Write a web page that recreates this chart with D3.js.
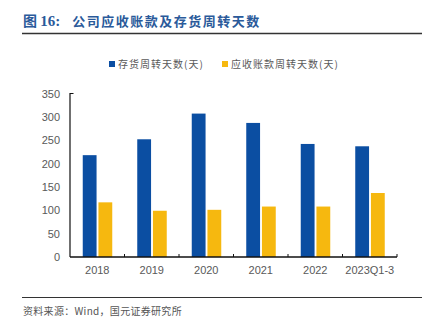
<!DOCTYPE html>
<html><head><meta charset="utf-8">
<script src="https://cdn.jsdelivr.net/npm/d3@7/dist/d3.min.js"></script>
<style>html,body{margin:0;padding:0;background:#fff;}svg{display:block;}</style>
</head><body>
<svg id="c" width="431" height="324"></svg>
<script>
const categories = ["2018","2019","2020","2021","2022","2023Q1-3"];
const inventoryDays = [218, 252, 307, 287, 242, 237];
const receivableDays = [117, 99, 101, 108, 108, 137];
const seriesNames = ["存货周转天数(天)", "应收账款周转天数(天)"];
const yTicks = [0,50,100,150,200,250,300,350];

(function(){
const svg = d3.select("#c");
const colors = ["#0b4ea2", "#f6b80f"];
const pL = 70, pR = 397, pT = 93.5, pB = 257;

// Title
const title = svg.append("text").attr("x", 23).attr("y", 26).attr("fill", "#2a5a9a");
title.append("tspan").attr("font-family","'Noto Sans CJK SC',sans-serif").attr("font-weight","bold").attr("font-size",14).text("图 ");
title.append("tspan").attr("font-family","'Liberation Serif','DejaVu Serif',serif").attr("font-weight","bold").attr("font-size",15).text("16:");
title.append("tspan").attr("dx", 12).attr("font-family","'Noto Sans CJK SC',sans-serif").attr("font-weight",600).attr("font-size",13).attr("letter-spacing",1.5).text("公司应收账款及存货周转天数");
svg.append("line").attr("x1", 22).attr("x2", 422).attr("y1", 33.5).attr("y2", 33.5)
  .attr("stroke", "#333").attr("stroke-width", 1.3);

const x = d3.scaleBand().domain(categories).range([pL, pR]).paddingInner(0).paddingOuter(0);
const y = d3.scaleLinear().domain([0, 350]).range([pB, pT]);
const sub = d3.scaleBand().domain([0,1]).range([0, 29.5]).paddingInner(0.12);

// Bars
const g = svg.append("g");
categories.forEach((c, i) => {
  const x0 = x(c) + x.bandwidth()/2 - 14.5;
  [inventoryDays[i], receivableDays[i]].forEach((v, j) => {
    g.append("rect").attr("x", x0 + sub(j)).attr("width", sub.bandwidth())
      .attr("y", y(v)).attr("height", y(0) - y(v)).attr("fill", colors[j]);
  });
});

// Y axis
const yAxis = d3.axisLeft(y).tickValues(yTicks).tickSize(0).tickPadding(10);
const ya = svg.append("g").attr("transform", `translate(${pL},0)`).call(yAxis);
ya.select(".domain").remove();
ya.selectAll("text").attr("font-family", "'Liberation Sans',Arial,sans-serif").attr("font-size", 11).attr("fill", "#595959");
svg.append("path").attr("d", `M${pL+3.5},${pT}H${pL}V${pB}`).attr("fill","none").attr("stroke","#111").attr("stroke-width",1.2);

// X axis
const xAxis = d3.axisBottom(x).tickSize(0).tickPadding(9);
const xa = svg.append("g").attr("transform", `translate(0,${pB})`).call(xAxis);
xa.select(".domain").remove();
xa.selectAll("text").attr("font-family", "'Liberation Sans',Arial,sans-serif").attr("font-size", 11).attr("fill", "#595959");
svg.append("line").attr("x1", pL).attr("x2", pR).attr("y1", pB).attr("y2", pB).attr("stroke","#111").attr("stroke-width",1.5);
categories.forEach(c => {
  const xb = x(c) + x.bandwidth();
  svg.append("line").attr("x1", xb).attr("x2", xb).attr("y1", pB).attr("y2", pB-3).attr("stroke","#111").attr("stroke-width",1);
});

// Legend
const leg = [{x:109, tx:118}, {x:222, tx:231}];
seriesNames.forEach((n, i) => {
  svg.append("rect").attr("x", leg[i].x).attr("y", 61).attr("width", 6).attr("height", 6).attr("fill", colors[i]);
  svg.append("text").attr("x", leg[i].tx).attr("y", 68).attr("font-family","'Noto Sans CJK SC',sans-serif")
    .attr("font-size", 10).attr("fill", "#595959").attr("letter-spacing", 1).text(n);
});

// Footer
svg.append("line").attr("x1", 22).attr("x2", 422).attr("y1", 297.5).attr("y2", 297.5)
  .attr("stroke", "#333").attr("stroke-width", 1.2);
svg.append("text").attr("x", 23).attr("y", 315).attr("font-family","'Noto Sans CJK SC',sans-serif")
  .attr("font-size", 10).attr("fill", "#555").attr("letter-spacing", 0.3).text("资料来源：Wind，国元证券研究所");
})();
</script>
</body></html>
